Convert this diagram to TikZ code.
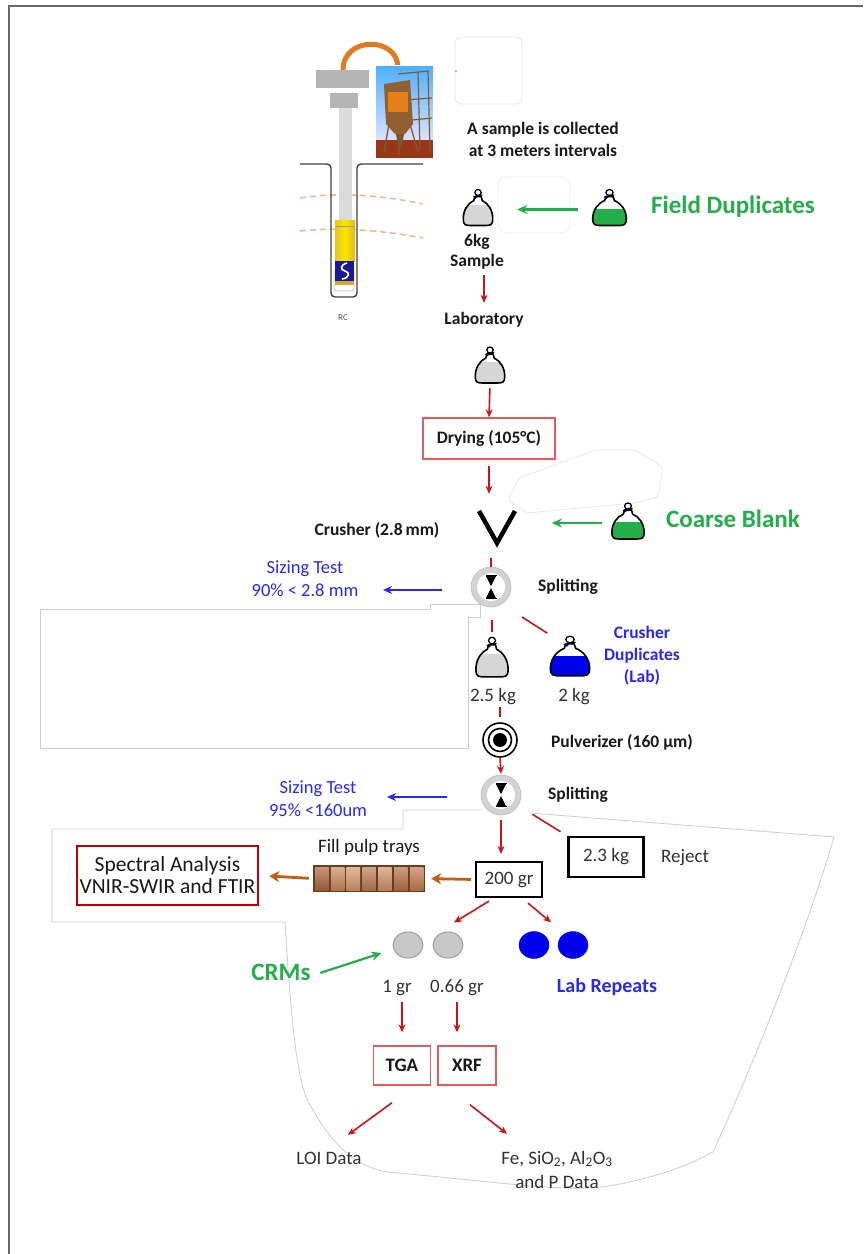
\documentclass[tikz,border=0pt]{standalone}
\usepackage{fontspec}
\setmainfont{Carlito}
\usetikzlibrary{arrows.meta,calc,shapes.geometric}
\definecolor{arrred}{RGB}{204,20,20}
\definecolor{boxred}{RGB}{226,90,90}
\definecolor{specred}{RGB}{192,0,0}
\definecolor{grn}{RGB}{34,174,72}
\definecolor{blu}{RGB}{40,40,250}
\definecolor{bagblue}{RGB}{0,0,235}
\definecolor{brn}{RGB}{197,90,17}
\definecolor{txt}{RGB}{25,25,25}
\definecolor{txtg}{RGB}{50,50,50}
\definecolor{faintc}{RGB}{205,205,205}
\definecolor{framec}{RGB}{105,105,105}
\definecolor{baggray}{RGB}{214,214,214}
\definecolor{orng}{RGB}{228,122,32}
\definecolor{salmon}{RGB}{245,180,140}
\definecolor{crmgray}{RGB}{200,200,200}
\tikzset{
  rarrow/.style={draw=arrred, line width=1.6pt, -{Stealth[length=8pt,width=7pt]}},
  rline/.style={draw=arrred, line width=1.6pt},
  garrow/.style={draw=grn, line width=2.2pt, -{Stealth[length=10pt,width=9pt]}},
  barrow/.style={draw=blu, line width=1.8pt, -{Stealth[length=9pt,width=8pt]}},
  brarrow/.style={draw=brn, line width=2.8pt, -{Stealth[length=10pt,width=11pt]}},
  bt/.style={font=\fontsize{17.5}{21}\selectfont\bfseries, text=txt, inner sep=0pt, text height=12pt, text depth=4pt},
  btm/.style={font=\fontsize{17.5}{22}\selectfont\bfseries, text=txt, inner sep=0pt, align=center},
  rt/.style={font=\fontsize{19}{21}\selectfont, text=txtg, inner sep=0pt, text height=12pt, text depth=4pt},
  gt/.style={font=\fontsize{25}{28}\selectfont\bfseries, text=grn, inner sep=0pt, text height=16pt, text depth=5pt},
  blt/.style={font=\fontsize{18.5}{22}\selectfont, text=blu, inner sep=0pt, text height=12pt, text depth=4pt},
  icon/.style={inner sep=0pt, draw=none},
  faint/.style={draw=faintc, line width=0.8pt},
  faintbox/.style={draw=black!10, line width=0.7pt, rounded corners=6pt, inner sep=0pt},
  pics/bag/.style n args={2}{code={
    \begin{scope}
      \clip (-3,-11) -- (-4,-7) .. controls (-10,-4) and (-14,3) .. (-14,11) .. controls (-14,18) and (-12,18) .. (-6,18) -- (6,18) .. controls (12,18) and (14,18) .. (14,11) .. controls (14,3) and (10,-4) .. (4,-7) -- (3,-11) -- cycle;
      \fill[#1] (-20,#2) rectangle (20,20);
    \end{scope}
    \draw[line width=1.6pt, line join=round] (-3,-11) -- (-4,-7) .. controls (-10,-4) and (-14,3) .. (-14,11) .. controls (-14,18) and (-12,18) .. (-6,18) -- (6,18) .. controls (12,18) and (14,18) .. (14,11) .. controls (14,3) and (10,-4) .. (4,-7) -- (3,-11) -- cycle;
    \draw[line width=1.3pt] (0,-15) circle (3);
    \draw[line width=1.1pt] (-4.5,-10.5) -- (4,-12.5);
    \fill[blue!70!black] (-2.5,-10) circle (1.5);
  }},
  pics/splitter/.style={code={
    \fill[gray!35] (0,0) circle (20);
    \draw[gray!55, line width=0.6pt] (0,0) circle (20);
    \fill[white] (0,0) circle (14);
    \fill (-5,-11) -- (5,-11) -- (0,-1) -- cycle;
    \fill (0,1) -- (5,11) -- (-5,11) -- cycle;
    \draw[line width=0.8pt] (-5.5,-11.5) -- (5.5,-11.5) (-5.5,11.5) -- (5.5,11.5);
  }},
  pics/pulv/.style={code={
    \draw[line width=1.6pt] (0,0) circle (17);
    \draw[line width=1.6pt] (0,0) circle (11.5);
    \fill (0,0) circle (7);
  }}
}
\begin{document}
\begin{tikzpicture}[x=1pt,y=-1pt]
\useasboundingbox (0,0) rectangle (863,1254);
\fill[white] (0,0) rectangle (863,1254);
\draw[framec, line width=2.2pt] (9,1254) -- (9,6) -- (863,6);

% faint background outlines
\draw[faint] (40,609) -- (430,609) -- (430,604) -- (480,604) -- (480,617) -- (468,617) -- (468,748) -- (40,748) -- cycle;
\draw[faint] (481,810) -- (403,810) -- (403,829) -- (52,829) -- (52,922) -- (285,922) .. controls (290,1000) and (295,1080) .. (310,1105) .. controls (330,1140) and (350,1165) .. (387,1172) .. controls (480,1180) and (560,1192) .. (602,1187) .. controls (650,1180) and (690,1165) .. (713,1152) .. controls (760,1050) and (810,920) .. (834,837) -- (530,813);
\draw[faint, draw=black!9, rounded corners=3pt] (508,500) -- (519,478) -- (596,450) -- (635,450) -- (663,467) -- (658,497) -- (635,503) -- (527,513) -- cycle;

% ---------- drill rig ----------
\draw[salmon, line width=1.5pt, dash pattern=on 6pt off 4pt] (300,198) .. controls (340,192) and (380,195) .. (423,204);
\draw[salmon, line width=1.5pt, dash pattern=on 6pt off 4pt] (300,231) .. controls (340,227) and (380,230) .. (423,238);
\draw[black!75, line width=1.4pt, rounded corners=4pt] (300,164) -- (331,164) -- (331,297) -- (357,297) -- (357,164) -- (423,164);
\draw[black!25, line width=0.8pt, rounded corners=3pt] (334,270) -- (334,291) -- (354,291) -- (354,270);
\draw[orng, line width=5pt] (343,70) .. controls (343,36) and (398,36) .. (398,68);
\fill[gray!58] (316,70) rectangle (369,88);
\fill[gray!58] (330,93) rectangle (358,108);
\fill[gray!28] (339,108) rectangle (352,221);
\shade[left color=yellow!55!brown, right color=yellow!45!brown, middle color=yellow!80!orange] (335,220) rectangle (355,261);
\draw[black!40, line width=0.5pt] (335,226) -- (355,226);
\fill[blue!55!black!90] (335,261) rectangle (354,281);
\draw[white, line width=1.6pt] (347,263) .. controls (340,265) and (340,270) .. (345,271) .. controls (350,272) and (350,278) .. (342,279);
\fill[brown!70!yellow] (335,281) rectangle (354,285);
% photo
\shade[top color=blue!45!cyan!70!white, bottom color=blue!10!white] (375,65) rectangle (433,145);
\fill[brown!60!red!70!black] (375,140) rectangle (433,158);
\draw[brown!70!black, line width=1.2pt] (398,74) -- (428,71) -- (430,152) (418,72) -- (420,150) (405,100) -- (432,98) (412,120) -- (432,118);
\fill[brown!75!black] (384,84) -- (410,80) -- (413,124) -- (405,134) -- (395,134) -- (386,124) -- cycle;
\fill[orange!60!brown] (388,92) rectangle (408,112);
\fill[brown!65!black] (396,134) -- (404,134) -- (402,146) -- (398,146) -- cycle;
\draw[brown!70!black, line width=1.3pt] (389,124) -- (384,152) (410,124) -- (418,152) (399,146) -- (399,155);
\draw[white, line width=0.8pt] (375,65) rectangle (433,158);
\node[font=\fontsize{9}{10}\selectfont, text=black!65, inner sep=0pt] (rc) at (343,318) {RC};

% ---------- top part ----------
\node[faintbox, minimum width=67pt, minimum height=67pt] (emptysq) at (488.5,70.5) {};
\fill[grn] (456,71) circle (0.9);
\node[btm] (collect) at (543,139.5) {A sample is collected\\at 3 meters intervals};
\node[faintbox, draw=black!7, minimum width=72pt, minimum height=56pt, rounded corners=9pt] (fdbox) at (534,205) {};
\node[icon, minimum width=30pt, minimum height=40pt] (bag1) at (478,207.5) {};
\pic[xscale=1.05] at (bag1) {bag={baggray}{-3}};
\node[icon, minimum width=35pt, minimum height=40pt] (gbag1) at (609.5,207.5) {};
\pic[xscale=1.2] at (gbag1) {bag={grn}{1}};
\draw[garrow, shorten <=14pt, shorten >=24pt] ([yshift=-2]gbag1.west) -- ([yshift=-2]bag1.east);
\node[gt] (fielddup) at (733,208) {Field Duplicates};
\node[bt] (kg6) at (477,242) {6kg};
\node[bt] (sample) at (477,262) {Sample};
\node[bt] (lab) at (484,320) {Laboratory};
\draw[rarrow, shorten <=5pt, shorten >=9pt] (lab.north |- sample.south) -- (lab.north);
\node[icon, minimum width=31pt, minimum height=38pt] (bag2) at (490,365) {};
\pic[xscale=1.05] at (bag2) {bag={baggray}{-3}};
\node[bt, draw=boxred, line width=1.4pt, minimum width=132pt, minimum height=41pt, text height=, text depth=] (dry) at (489,438.5) {Drying (105°C)};
\draw[rarrow, shorten <=4pt] (bag2.south) -- (dry.north);

% ---------- crusher ----------
\node[icon, minimum width=36pt, minimum height=32pt] (crusher) at (497,527) {};
\draw[line width=4.5pt, line join=miter] (479,511) -- (497,543) -- (515,511);
\draw[rarrow, shorten <=6pt, shorten >=17pt] (dry.south) -- (dry.south |- crusher.north);
\node[bt] (crushtxt) at (377,531) {Crusher (2.8\,mm)};
\node[icon, minimum width=32pt, minimum height=40pt] (gbag2) at (628,521) {};
\pic[xscale=1.15] at (gbag2) {bag={grn}{1}};
\draw[garrow, shorten <=10pt] ([yshift=-2]gbag2.west) -- ++(-60,0) coordinate (cbend);
\node[gt] (coarse) at (733,522) {Coarse Blank};

% ---------- splitter 1 ----------
\node[icon, circle, minimum size=40pt] (split1) at (491,587) {};
\pic at (split1) {splitter};
\draw[rline, shorten <=15pt] (split1.north |- crusher.south) -- (split1.north);
\node[bt] (split1txt) at (568,587) {Splitting};
\node[blt] (sz1a) at (305,569) {Sizing Test};
\node[blt] (sz1b) at (305,592) {90\% < 2.8 mm};
\coordinate (sz1e) at (383,590);
\draw[barrow, shorten <=29pt] (split1.west |- sz1e) -- (sz1e);

\node[icon, minimum width=32pt, minimum height=42pt] (bag3) at (492,657) {};
\pic[xscale=1.15, yscale=1.1] at (bag3) {bag={baggray}{-3}};
\node[icon, minimum width=40pt, minimum height=42pt] (bag4) at (570,656) {};
\pic[xscale=1.4, yscale=1.1] at (bag4) {bag={bagblue}{0}};
\draw[rline, shorten <=13pt, shorten >=4pt] (bag3.north |- split1.south) -- (bag3.north);
\draw[rline, shorten >=3pt] ([shift={(31,30)}]split1.center) -- (bag4.north west);
\node[btm, text=blu] (cdup) at (642,656) {Crusher\\Duplicates\\(Lab)};
\node[rt] (kg25) at (493,697) {2.5 kg};
\node[rt] (kg2) at (574,697) {2 kg};

% ---------- pulverizer ----------
\node[icon, circle, minimum size=34pt] (pulv) at (500,740) {};
\pic at (pulv) {pulv};
\draw[rline, shorten <=2pt, shorten >=6pt] (pulv.north |- kg25.south) -- (pulv.north);
\node[bt] (pulvtxt) at (622,743) {Pulverizer (160 µm)};

% ---------- splitter 2 ----------
\node[icon, circle, minimum size=40pt] (split2) at (501,795) {};
\pic at (split2) {splitter};
\draw[rarrow, shorten >=1pt] (pulv.south) -- (split2.north);
\node[bt] (split2txt) at (578,795) {Splitting};
\node[blt] (sz2a) at (318,789) {Sizing Test};
\node[blt] (sz2b) at (318,812) {95\% <160um};
\coordinate (sz2e) at (387,797);
\draw[barrow, shorten <=34pt] (split2.west |- sz2e) -- (sz2e);

\node[rt, draw=black, line width=2.2pt, minimum width=75pt, minimum height=40pt, text height=, text depth=] (box23) at (606,857) {2.3 kg};
\node[rt] (reject) at (685,858) {Reject};
\draw[rline, shorten <=37pt, shorten >=8pt] (split2.center) -- (box23.north west);
\node[rt, draw=black, line width=2.2pt, minimum width=66pt, minimum height=35pt, text height=, text depth=] (box200) at (509,879.5) {200 gr};
\draw[rarrow, shorten <=5pt, shorten >=7pt] (split2.south) -- (split2.south |- box200.north);

% ---------- trays and spectral ----------
\node[icon, minimum width=112pt, minimum height=27pt] (tray) at (369,878.5) {};
\fill[brown!50!black] (313,865) rectangle (425,892);
\foreach \i/\r/\g/\b in {0/175/105/65, 1/205/140/95, 2/215/155/110, 3/190/125/85, 4/210/150/105, 5/185/115/75, 6/200/125/80} {
  \definecolor{cc}{RGB}{\r,\g,\b}
  \shade[top color=cc!70!white, bottom color=cc!85!black] ({315+\i*15.8},867) rectangle ({315+\i*15.8+13.5},890);
}
\node[rt, text=txt] (filltxt) at (369,848) {Fill pulp trays};
\node[font=\fontsize{21.5}{22}\selectfont, text=txt, align=center, draw=specred, line width=2.6pt, minimum width=181pt, minimum height=59pt, inner sep=0pt] (spec) at (167.5,875.5) {Spectral Analysis\\VNIR-SWIR and FTIR};
\draw[brarrow, shorten <=4pt, shorten >=6pt] (box200.west) -- (tray.east);
\draw[brarrow, shorten <=4pt, shorten >=10pt] (tray.west) -- (spec.east);

% ---------- pellets ----------
\node[ellipse, draw=gray!75, fill=crmgray, line width=1pt, minimum width=30pt, minimum height=26pt, inner sep=0pt] (crm1) at (408,945) {};
\node[ellipse, draw=gray!75, fill=crmgray, line width=1pt, minimum width=30pt, minimum height=26pt, inner sep=0pt] (crm2) at (448,945) {};
\node[ellipse, draw=bagblue, fill=bagblue, minimum width=30pt, minimum height=27pt, inner sep=0pt] (lr1) at (534,945) {};
\node[ellipse, draw=bagblue, fill=bagblue, minimum width=30pt, minimum height=27pt, inner sep=0pt] (lr2) at (573,945) {};
\draw[rarrow] ([shift={(-20,3)}]box200.south) -- ([shift={(6,-9)}]crm2.north);
\draw[rarrow] ([shift={(19,5)}]box200.south) -- ([shift={(17,-9)}]lr1.north);
\node[gt] (crms) at (281,975) {CRMs};
\draw[garrow, shorten <=10pt] ([yshift=-1]crms.east) -- ([shift={(-11,8)}]crm1.west);
\node[rt] (gr1) at (397,988) {1 gr};
\node[rt] (gr066) at (457,988) {0.66 gr};
\node[blt, font=\fontsize{20}{22}\selectfont\bfseries] (labrep) at (607,988) {Lab Repeats};

% ---------- analysis ----------
\node[bt, font=\fontsize{19}{21}\selectfont\bfseries, draw=boxred, line width=1.4pt, minimum width=57pt, minimum height=39pt, text height=, text depth=] (tga) at (402,1065.5) {TGA};
\node[bt, font=\fontsize{19}{21}\selectfont\bfseries, draw=boxred, line width=1.4pt, minimum width=58pt, minimum height=39pt, text height=, text depth=] (xrf) at (467,1065.5) {XRF};
\draw[rarrow, shorten <=6pt, shorten >=13pt] (tga.north |- gr1.south) -- (tga.north);
\draw[rarrow, shorten <=6pt, shorten >=13pt] (gr066.south) -- (gr066.south |- xrf.north);
\node[rt] (loi) at (329,1160) {LOI Data};
\node[rt] (fe1) at (557,1160) {Fe, SiO\textsubscript{2}, Al\textsubscript{2}O\textsubscript{3}};
\node[rt] (fe2) at (557,1184) {and P Data};
\draw[rarrow] ([shift={(-10,17)}]tga.south) -- ([shift={(19,-17)}]loi.north);
\draw[rarrow] ([shift={(3,19)}]xrf.south) -- ([shift={(-50,-18)}]fe1.north);
\end{tikzpicture}
\end{document}
